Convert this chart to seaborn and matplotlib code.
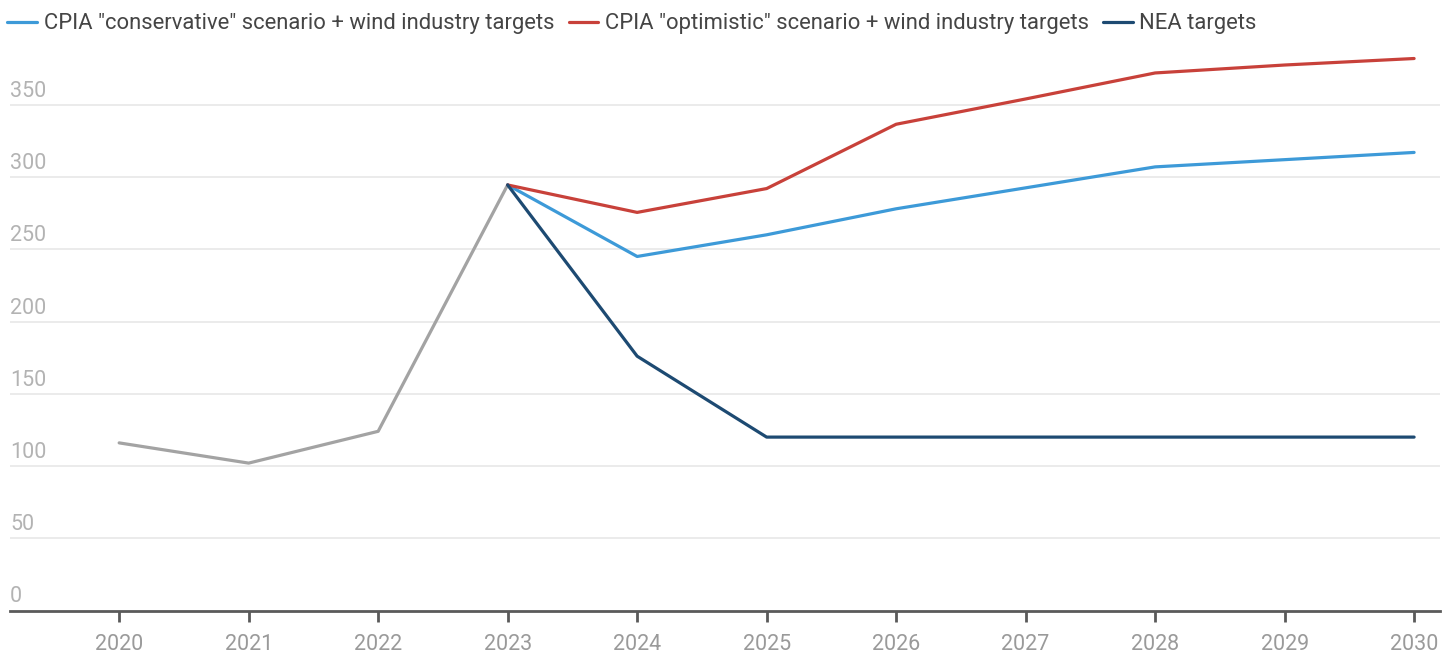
import matplotlib
matplotlib.use("Agg")
import matplotlib.pyplot as plt
from matplotlib.lines import Line2D
import matplotlib.transforms as mtransforms
import seaborn as sns
import pandas as pd

# Annual values
history_years = [2020, 2021, 2022, 2023]
history_values = [116, 102, 124, 294.5]

scenario_years = [2023, 2024, 2025, 2026, 2027, 2028, 2029, 2030]
conservative_values = [294.5, 245, 260, 278, 292.5, 307, 312, 317]
optimistic_values = [294.5, 275.5, 292, 336.5, 354, 372, 377.5, 382]
nea_values = [294.5, 176, 120, 120, 120, 120, 120, 120]

series_names = [
    'CPIA "conservative" scenario + wind industry targets',
    'CPIA "optimistic" scenario + wind industry targets',
    'NEA targets',
]
series_colors = ["#3d9ad8", "#c8413a", "#1d4a72"]
history_color = "#a3a3a3"

y_ticks = [0, 50, 100, 150, 200, 250, 300, 350]
x_ticks = list(range(2020, 2031))

sns.set_theme(style="white")
plt.rcParams["font.family"] = ["Roboto", "DejaVu Sans"]

frames = []
for name, vals in zip(series_names, [conservative_values, optimistic_values, nea_values]):
    frames.append(pd.DataFrame({"year": scenario_years, "value": vals, "series": name}))
scen = pd.concat(frames, ignore_index=True)
hist = pd.DataFrame({"year": history_years, "value": history_values})

fig = plt.figure(figsize=(14.55, 6.54), dpi=100)
ax = fig.add_axes([10 / 1455, (654 - 610.5) / 654, 1430 / 1455, 578 / 654])

sns.lineplot(data=hist, x="year", y="value", color=history_color, linewidth=2.3, ax=ax)
sns.lineplot(data=scen, x="year", y="value", hue="series", hue_order=series_names,
             palette=series_colors, linewidth=2.3, legend=False, ax=ax)

ax.set_xlim(2019.157, 2030.2)
ax.set_ylim(0, 400)
ax.set_xlabel("")
ax.set_ylabel("")

# gridlines
for v in y_ticks[1:]:
    ax.axhline(v, color="#e9e9e9", linewidth=1.3, zorder=0)

for side in ["top", "right", "left"]:
    ax.spines[side].set_visible(False)
ax.spines["bottom"].set_color("#5a5a5a")
ax.spines["bottom"].set_linewidth(2)

ax.set_yticks([])
ax.set_xticks(x_ticks)
ax.set_xticklabels([str(y) for y in x_ticks])
ax.tick_params(axis="x", direction="out", length=8, width=2, color="#5a5a5a",
               labelsize=15.5, labelcolor="#9a9a9a", pad=9, bottom=True)

# y labels sit above their gridlines at the left edge
trans = mtransforms.blended_transform_factory(ax.transAxes, ax.transData)
offset = mtransforms.ScaledTranslation(0, 8 / 100, fig.dpi_scale_trans)
for v in y_ticks:
    ax.text(0.0, v, str(v), transform=trans + offset, ha="left", va="baseline",
            fontsize=15.5, color="#b3b3b3")

handles = [Line2D([0], [0], color=c, linewidth=2.3) for c in series_colors]
fig.legend(handles, series_names, loc="upper left", bbox_to_anchor=(3 / 1455, 1 - 9 / 654),
           ncol=3, frameon=False, fontsize=15.85, handlelength=1.35, handletextpad=0.3,
           columnspacing=0.65, borderaxespad=0, borderpad=0.2,
           labelcolor="#454545")

fig.savefig("out.png", dpi=100)
